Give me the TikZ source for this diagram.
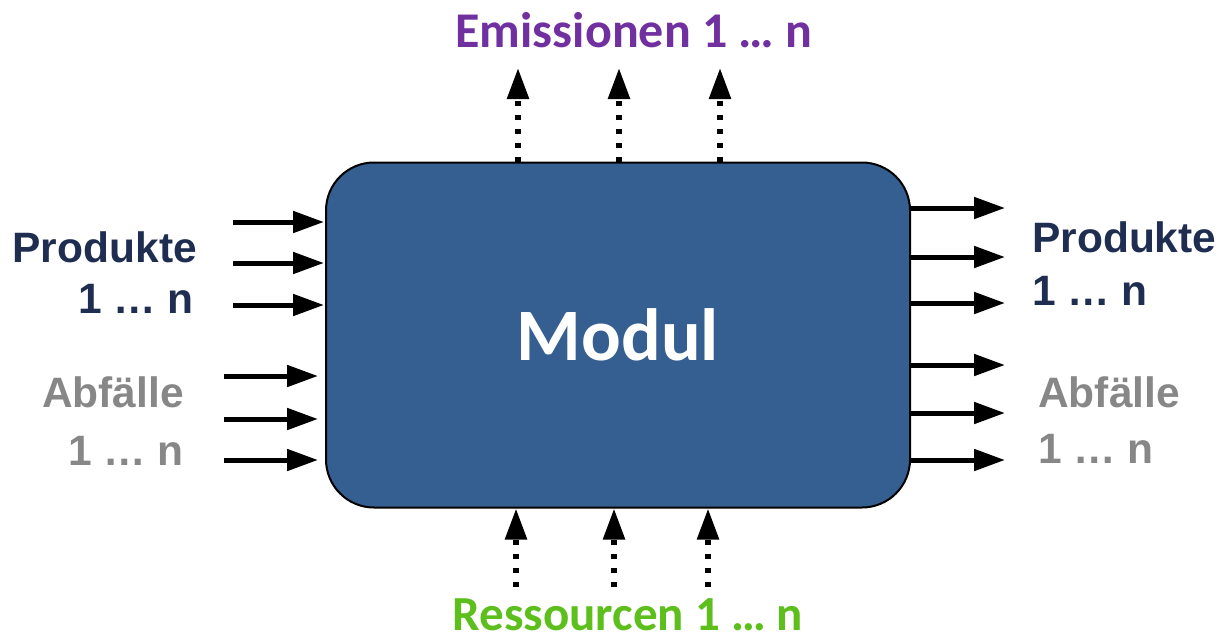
\documentclass[tikz,border=0pt]{standalone}
\usepackage{fontspec}
\setmainfont{Liberation Sans}
\newfontfamily\calfont{Carlito}
\usetikzlibrary{arrows.meta}
\definecolor{modulblue}{HTML}{355F91}
\definecolor{produktnavy}{HTML}{1F2D50}
\definecolor{abfallgray}{HTML}{878787}
\definecolor{emissionpurple}{HTML}{7030A0}
\definecolor{resourcegreen}{HTML}{5CBF1C}
\begin{document}
\begin{tikzpicture}[x=1pt,y=-1pt,
  flow/.style={line width=5pt,-{Triangle[length=31pt,width=21pt]}},
  dotflow/.style={flow,line width=5.5pt,dash pattern=on 5pt off 9pt},
  sidelabel/.style={inner sep=0pt,font=\fontsize{42.5}{42.5}\selectfont\bfseries},
  streamlabel/.style={inner sep=0pt,anchor=base,font=\calfont\fontsize{50}{50}\selectfont\bfseries},
  modulbox/.style={draw=black,line width=2pt,fill=modulblue,rounded corners=48pt,
    minimum width=584pt,minimum height=345pt,inner sep=0pt,text=white,
    font=\calfont\fontsize{74}{74}\selectfont\bfseries}]
\useasboundingbox (0,0) rectangle (1227,641);

% central module
\node[modulbox] (m) at (618,335) {Modul};

% incoming products and waste (left)
\coordinate (pin1) at (233,222);
\coordinate (pin2) at (233,263);
\coordinate (pin3) at (233,305);
\coordinate (ain1) at (224,376);
\coordinate (ain2) at (224,419);
\coordinate (ain3) at (224,460);
\foreach \c in {pin1,pin2,pin3}
  \draw[flow,shorten >=1pt] (\c) -- (\c -| m.west);
\foreach \c in {ain1,ain2,ain3}
  \draw[flow,shorten >=7pt] (\c) -- (\c -| m.west);

% outgoing products and waste (right)
\coordinate (pout1) at (1005,208);
\coordinate (pout2) at (1005,257);
\coordinate (pout3) at (1005,303);
\coordinate (aout1) at (1005,365);
\coordinate (aout2) at (1005,413);
\coordinate (aout3) at (1005,460);
\foreach \c in {pout1,pout2,pout3,aout1,aout2,aout3}
  \draw[flow] (\c -| m.east) -- (\c);

% emissions (top)
\coordinate (e1) at (518,68);
\coordinate (e2) at (619,68);
\coordinate (e3) at (720,68);
\foreach \c in {e1,e2,e3}
  \draw[dotflow] (\c |- m.north) -- (\c);

% resources (bottom)
\coordinate (r1) at (516,587);
\coordinate (r2) at (614,587);
\coordinate (r3) at (708,587);
\foreach \c in {r1,r2,r3}
  \draw[dotflow] (\c) -- (\c |- m.south);

% labels
\node[sidelabel,text=produktnavy,anchor=base east] (lp1) at (197,262) {Produkte};
\node[sidelabel,text=produktnavy,anchor=base east] (lp2) at (194,313) {1 … n};
\node[sidelabel,text=abfallgray,anchor=base east] (la1) at (184,407) {Abfälle};
\node[sidelabel,text=abfallgray,anchor=base east] (la2) at (184,465) {1 … n};
\node[sidelabel,text=produktnavy,anchor=base west] (rp1) at (1032,252) {Produkte};
\node[sidelabel,text=produktnavy,anchor=base west] (rp2) at (1032,305) {1 … n};
\node[sidelabel,text=abfallgray,anchor=base west] (ra1) at (1038,407) {Abfälle};
\node[sidelabel,text=abfallgray,anchor=base west] (ra2) at (1038,463) {1 … n};
\node[streamlabel,text=emissionpurple] (em) at (634,47) {Emissionen 1 … n};
\node[streamlabel,text=resourcegreen,font=\calfont\fontsize{49}{49}\selectfont\bfseries] (rs) at (628,630) {Ressourcen 1 … n};
\end{tikzpicture}
\end{document}
